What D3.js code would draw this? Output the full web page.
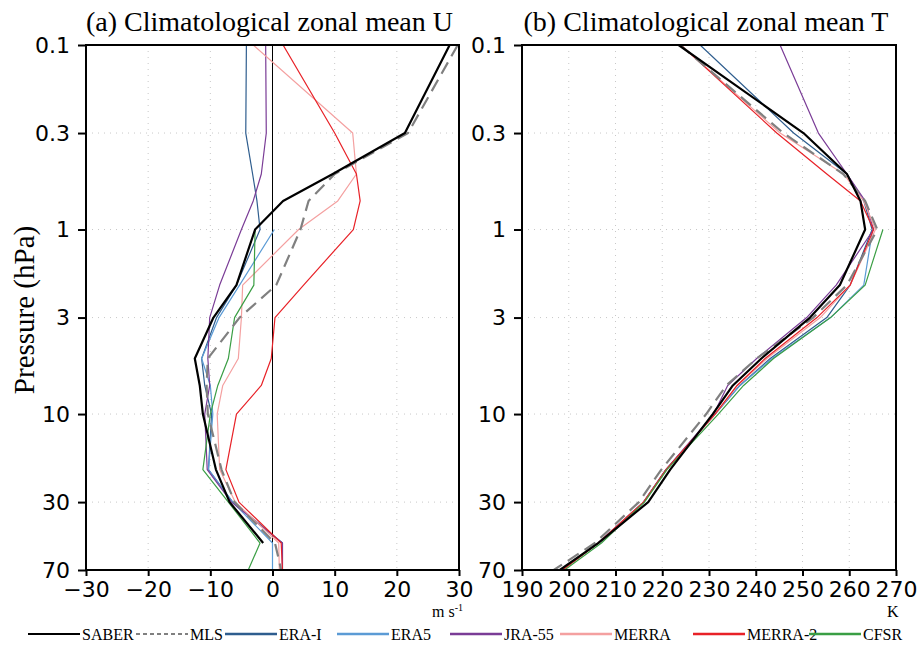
<!DOCTYPE html>
<html lang="en">
<head>
<meta charset="UTF-8">
<title>Climatological zonal mean U and T</title>
<style>
    body { margin: 0; padding: 0; background: #fff; }
    svg { display: block; }
    .tick text { font-family: "DejaVu Sans", sans-serif; font-size: 22px; fill: #000; }
    .serif { font-family: "Liberation Serif", "Times New Roman", serif; fill: #000; }
</style>
</head>
<body>
<svg id="chart" width="922" height="648"></svg>

<script src="https://d3js.org/d3.v7.min.js"></script>
<script>
    // pressure levels (hPa)
    var levels = [0.1, 0.3, 0.5, 0.7, 1, 2, 3, 5, 7, 10, 20, 30, 50, 70];
    var pTicks = [0.1, 0.3, 1, 3, 10, 30, 70];
    var uTicks = [-30, -20, -10, 0, 10, 20, 30];
    var tTicks = [190, 200, 210, 220, 230, 240, 250, 260, 270];

    var names = ["SABER", "MLS", "ERA-I", "ERA5", "JRA-55", "MERRA", "MERRA-2", "CFSR"];
    var colors = ["#000000", "#808080", "#2e5d8e", "#5b9bd5", "#7a3c96", "#f4a0a0", "#e82127", "#3a9e44"];

    // zonal wind (m/s), one value per level, null = no data
    var uSABER  = [28.5, 21.3, 9.7, 1.7, -2.8, -5.8, -9.5, -12.5, -11.7, -11.2, -9.1, -6.9, -1.5, null];
    var uMLS    = [29.8, 21.8, 10.0, 5.8, 4.5, 0.6, -5.3, -10.4, -10.6, -10.4, -8.2, -6.1, 0.4, 1.4];
    var uERAI   = [-4.2, -4.3, -3.2, -2.5, -2.0, -5.8, -9.0, -11.4, -10.9, -9.8, -10.3, -6.4, 1.6, 1.6];
    var uERA5   = [null, null, null, null, 0.3, -5.3, -8.6, -11.4, -10.0, -9.6, -10.3, -6.4, 0.0, 0.0];
    var uJRA55  = [-1.1, -1.0, -1.8, -3.1, -5.0, -8.5, -10.1, -10.4, -10.1, -10.9, -10.5, -6.6, 1.6, 1.6];
    var uMERRA  = [-3.1, 12.9, 13.5, 10.5, 4.2, -4.8, -5.0, -5.5, -8.0, -8.9, -8.5, -6.0, 1.0, 1.1];
    var uMERRA2 = [1.7, 10.0, 13.5, 14.1, 13.0, 5.0, 0.4, -0.2, -1.8, -5.8, -7.5, -5.4, 1.4, 1.6];
    var uCFSR   = [null, null, null, null, -2.8, -3.0, -6.1, -7.1, -8.8, -10.0, -11.2, -7.1, -2.0, -3.9];

    // temperature (K)
    var tSABER  = [223.5, 250.2, 259.5, 262.4, 263.4, 258.0, 251.6, 241.2, 235.1, 230.8, 221.7, 217.0, 206.3, 198.1];
    var tMLS    = [223.8, 245.9, 258.7, 263.4, 266.0, 259.5, 252.3, 240.2, 233.7, 229.4, 219.8, 215.0, 205.6, 196.8];
    var tERAI   = [228.1, 248.1, 259.5, 263.1, 264.9, 260.2, 255.2, 243.1, 236.6, 231.3, 220.8, 216.0, 206.3, 198.5];
    var tERA5   = [null, null, null, null, 265.0, 263.1, 256.0, 243.5, 236.6, 231.3, 220.8, 216.0, 206.3, 198.5];
    var tJRA55  = [245.2, 253.4, 259.5, 263.4, 265.2, 257.2, 250.9, 240.2, 234.0, 231.0, 220.8, 216.0, 206.3, 198.5];
    var tMERRA  = [224.0, 245.2, 258.8, 263.1, 265.6, 260.2, 253.8, 242.4, 236.1, 231.3, 221.0, 216.0, 206.3, 198.5];
    var tMERRA2 = [224.0, 244.5, 255.2, 262.4, 265.2, 260.2, 253.1, 242.0, 236.0, 231.3, 220.8, 216.0, 206.3, 198.7];
    var tCFSR   = [null, null, null, null, 267.2, 263.4, 256.0, 243.8, 237.4, 232.0, 221.0, 216.2, 207.0, 199.1];

    var uSeries = [uSABER, uMLS, uERAI, uERA5, uJRA55, uMERRA, uMERRA2, uCFSR];
    var tSeries = [tSABER, tMLS, tERAI, tERA5, tJRA55, tMERRA, tMERRA2, tCFSR];

    var svg = d3.select("#chart");
    var yTop = 45, yBot = 570;

    var y = d3.scaleLog().domain([0.1, 70]).range([yTop, yBot]);

    function drawPanel(x0, x1, domain, xTicks, series, title, showZero) {
        var x = d3.scaleLinear().domain(domain).range([x0, x1]);
        var g = svg.append("g");

        // dotted grid
        g.selectAll(".gx").data(xTicks.slice(1, -1)).enter().append("line")
            .attr("x1", d => x(d)).attr("x2", d => x(d))
            .attr("y1", yTop).attr("y2", yBot)
            .attr("stroke", "#c8c8c8").attr("stroke-width", 1).attr("stroke-dasharray", "1,5");
        g.selectAll(".gy").data(pTicks.slice(1, -1)).enter().append("line")
            .attr("x1", x0).attr("x2", x1)
            .attr("y1", d => y(d)).attr("y2", d => y(d))
            .attr("stroke", "#c8c8c8").attr("stroke-width", 1).attr("stroke-dasharray", "1,5");

        if (showZero) {
            g.append("line")
                .attr("x1", x(0)).attr("x2", x(0)).attr("y1", yTop).attr("y2", yBot)
                .attr("stroke", "#000").attr("stroke-width", 1);
        }

        var clipId = "clip" + Math.round(x0);
        svg.append("clipPath").attr("id", clipId).append("rect")
            .attr("x", x0).attr("y", yTop).attr("width", x1 - x0).attr("height", yBot - yTop);

        var line = d3.line()
            .defined(d => d[0] != null)
            .x(d => x(d[0]))
            .y(d => y(d[1]));

        // reanalyses first, then MLS and SABER on top
        var order = [2, 3, 4, 5, 6, 7, 1, 0];
        order.forEach(function (i) {
            var pts = series[i].map((v, k) => [v, levels[k]]);
            var path = g.append("path")
                .attr("clip-path", "url(#" + clipId + ")")
                .attr("d", line(pts))
                .attr("fill", "none")
                .attr("stroke", colors[i])
                .attr("stroke-linejoin", "round")
                .attr("stroke-width", i < 2 ? 2.2 : 1.2);
            if (i === 1) path.attr("stroke-dasharray", "13,7");
        });

        // frame
        g.append("rect")
            .attr("x", x0).attr("y", yTop).attr("width", x1 - x0).attr("height", yBot - yTop)
            .attr("fill", "none").attr("stroke", "#000").attr("stroke-width", 2);

        var ax = g.append("g")
            .attr("transform", "translate(0," + yBot + ")")
            .call(d3.axisBottom(x).tickValues(xTicks).tickSize(6).tickSizeOuter(0).tickPadding(5)
                .tickFormat(d => d < 0 ? "\u2212" + Math.abs(d) : d));
        ax.select(".domain").remove();
        ax.selectAll("line").attr("stroke-width", 2);

        var ay = g.append("g")
            .attr("transform", "translate(" + x0 + ",0)")
            .call(d3.axisLeft(y).tickValues(pTicks).tickSize(8).tickSizeOuter(0).tickPadding(8)
                .tickFormat(d => d));
        ay.select(".domain").remove();
        ay.selectAll("line").attr("stroke-width", 2);

        svg.append("text").attr("class", "serif")
            .attr("x", (x0 + x1) / 2 - 3).attr("y", 31)
            .attr("text-anchor", "middle")
            .style("font-size", "28px")
            .text(title);

        return x;
    }

    drawPanel(86, 459, [-30, 30], uTicks, uSeries, "(a) Climatological zonal mean U", true);
    drawPanel(522, 896, [190, 270], tTicks, tSeries, "(b) Climatological zonal mean T", false);

    // axis unit labels
    var ms = svg.append("text").attr("class", "serif")
        .attr("x", 432).attr("y", 617).style("font-size", "16px");
    ms.append("tspan").text("m s");
    ms.append("tspan").attr("dy", -6).style("font-size", "10px").text("-1");

    svg.append("text").attr("class", "serif")
        .attr("x", 887).attr("y", 617).style("font-size", "16px").text("K");

    // y axis title
    svg.append("text").attr("class", "serif")
        .attr("transform", "translate(34,310) rotate(-90)")
        .attr("text-anchor", "middle")
        .style("font-size", "29px")
        .text("Pressure (hPa)");

    // legend
    var legX = [28, 136, 225, 337, 450, 560, 693, 809];
    var legY = 634;
    names.forEach(function (n, i) {
        var lg = svg.append("g");
        lg.append("line")
            .attr("x1", legX[i]).attr("x2", legX[i] + 52)
            .attr("y1", legY).attr("y2", legY)
            .attr("stroke", colors[i])
            .attr("stroke-width", i < 2 ? 2 : 2.5)
            .attr("stroke-dasharray", i === 1 ? "4,3" : null);
        lg.append("text").attr("class", "serif")
            .attr("x", legX[i] + 54).attr("y", legY + 6)
            .style("font-size", "16px")
            .text(n);
    });
</script>
</body>
</html>
